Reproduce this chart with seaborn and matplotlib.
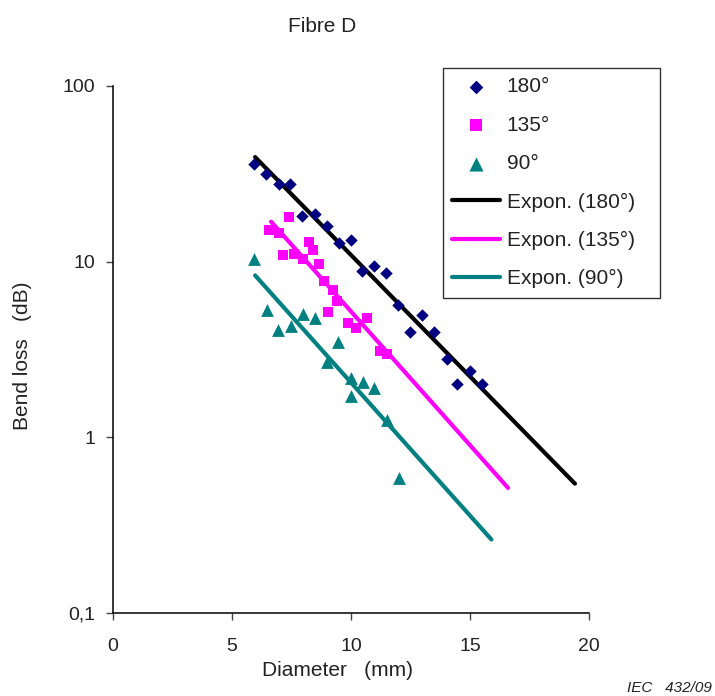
import matplotlib
matplotlib.use("Agg")
import matplotlib.pyplot as plt
import seaborn as sns
import pandas as pd

# --- data ---
d180_x = [5.92, 6.43, 6.97, 7.44, 7.94, 8.49, 8.99, 9.50, 10.0, 10.46, 10.97, 11.47,
          11.97, 12.48, 12.98, 13.49, 14.03, 14.45, 15.0, 15.5]
d180_y = [35.8, 31.4, 27.5, 27.5, 18.3, 18.8, 15.9, 12.7, 13.2, 8.9, 9.4, 8.6,
          5.7, 4.0, 5.0, 4.0, 2.78, 2.0, 2.4, 2.0]

d135_x = [7.41, 6.57, 6.99, 8.24, 8.40, 7.16, 7.60, 8.00, 8.67, 8.88, 9.23, 9.40,
          9.02, 9.89, 10.21, 10.66, 11.22, 11.53]
d135_y = [17.9, 15.2, 14.6, 13.0, 11.7, 10.9, 11.0, 10.4, 9.7, 7.8, 6.9, 6.0,
          5.2, 4.5, 4.2, 4.8, 3.1, 3.0]

d90_x = [5.94, 6.46, 6.95, 7.47, 7.97, 8.49, 9.47, 8.98, 9.99, 10.49, 10.97, 9.99,
         11.5, 12.0]
d90_y = [10.3, 5.33, 4.1, 4.3, 5.06, 4.8, 3.5, 2.68, 2.18, 2.06, 1.91, 1.73,
         1.25, 0.59]

# exponential trend lines (end points)
t180_x = [5.97, 19.41]
t180_y = [39.4, 0.545]
t135_x = [6.64, 16.6]
t135_y = [16.9, 0.515]
t90_x = [5.97, 15.9]
t90_y = [8.36, 0.262]

x_ticks = [0, 5, 10, 15, 20]
y_ticks = [0.1, 1, 10, 100]
y_tick_labels = ["0,1", "1", "10", "100"]

sns.set_theme(style="white")
plt.rcParams["font.family"] = ["Liberation Sans", "DejaVu Sans"]

TXT = "#222222"
fig = plt.figure(figsize=(7.15, 6.96), dpi=100)
ax = fig.add_axes([113 / 715, 1 - 613 / 696, 476 / 715, 527 / 696])

navy, mag, teal = "#000080", "#FF00FF", "#008080"

sns.lineplot(x=t180_x, y=t180_y, ax=ax, color="black", lw=3, label="Expon. (180°)", zorder=2)
sns.lineplot(x=t135_x, y=t135_y, ax=ax, color=mag, lw=3, label="Expon. (135°)", zorder=2)
sns.lineplot(x=t90_x, y=t90_y, ax=ax, color=teal, lw=3, label="Expon. (90°)", zorder=2)

sns.scatterplot(x=d180_x, y=d180_y, ax=ax, marker="D", s=40, color=navy, linewidth=0, label="180°", zorder=3)
sns.scatterplot(x=d135_x, y=d135_y, ax=ax, marker="s", s=62, color=mag, linewidth=0, label="135°", zorder=3)
sns.scatterplot(x=d90_x, y=d90_y, ax=ax, marker="^", s=85, color=teal, linewidth=0, label="90°", zorder=3)

ax.set_yscale("log")
ax.set_xlim(0, 20)
ax.set_ylim(0.1, 100)
ax.set_xticks(x_ticks)
ax.set_xticklabels([str(v) for v in x_ticks])
ax.set_yticks(y_ticks)
ax.set_yticklabels(y_tick_labels)
ax.yaxis.set_minor_locator(matplotlib.ticker.NullLocator())

for s in ["top", "right"]:
    ax.spines[s].set_visible(False)
for s in ["left", "bottom"]:
    ax.spines[s].set_color("black")
    ax.spines[s].set_linewidth(1.1)

ax.tick_params(axis="both", which="major", direction="out", length=5, width=1,
               color="#444444", labelsize=14, labelcolor=TXT, pad=8,
               bottom=True, left=True)
ax.tick_params(axis="x", pad=13)

ax.set_xlabel("Diameter   (mm)", fontsize=15, color=TXT)
ax.set_ylabel("Bend loss   (dB)", fontsize=15, color=TXT)
ax.xaxis.set_label_coords((338 - 113) / 476, (613 - 661) / 527)
ax.yaxis.set_label_coords((32 - 113) / 476, (613 - 356) / 527)

fig.text(322 / 715, 1 - 26 / 696, "Fibre D", fontsize=15, color=TXT, ha="center", va="center")
fig.text(712 / 715, 1 - 688 / 696, "IEC   432/09", fontsize=11, style="italic", color=TXT,
         ha="right", va="center")

handles, labels = ax.get_legend_handles_labels()
order = ["180°", "135°", "90°", "Expon. (180°)", "Expon. (135°)", "Expon. (90°)"]
hmap = dict(zip(labels, handles))
x0 = (443 - 113) / 476
y1 = (613 - 68) / 527
w = (660 - 443) / 476
h = (297 - 68) / 527
leg = ax.legend([hmap[k] for k in order], order, loc="upper left",
                bbox_to_anchor=(x0, y1 - h, w, h), mode="expand",
                fontsize=15, frameon=True, fancybox=False, framealpha=1,
                edgecolor="#333333", handlelength=2.3, labelspacing=0.93,
                borderpad=0.45, handletextpad=0.3, borderaxespad=0,
                markerscale=1.1)
leg.get_frame().set_linewidth(1.0)
for t in leg.get_texts():
    t.set_color(TXT)

fig.savefig("out.png", dpi=100, facecolor="white")
